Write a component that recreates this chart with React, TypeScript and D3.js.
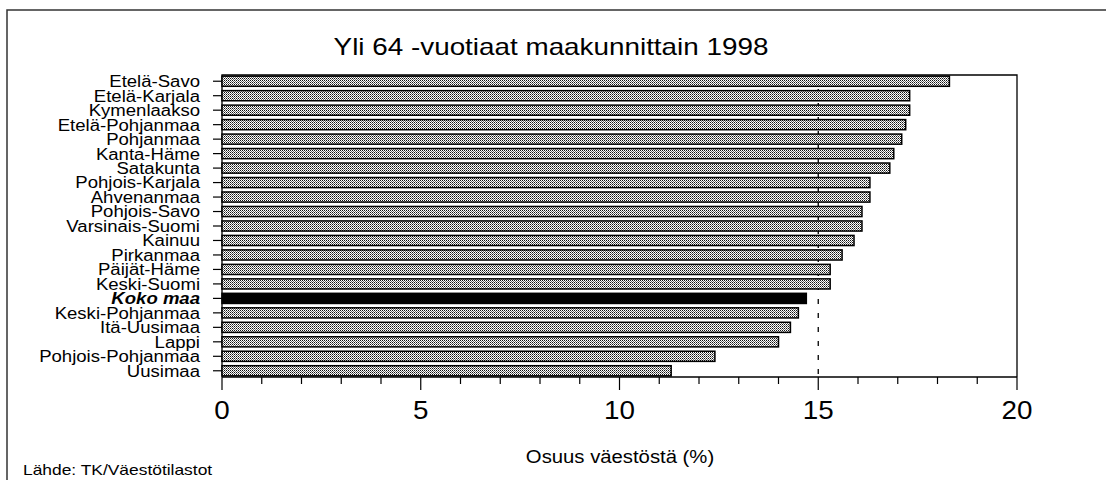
import React from "react";
import * as d3 from "d3";

const categories = [
  "Etelä-Savo",
  "Etelä-Karjala",
  "Kymenlaakso",
  "Etelä-Pohjanmaa",
  "Pohjanmaa",
  "Kanta-Häme",
  "Satakunta",
  "Pohjois-Karjala",
  "Ahvenanmaa",
  "Pohjois-Savo",
  "Varsinais-Suomi",
  "Kainuu",
  "Pirkanmaa",
  "Päijät-Häme",
  "Keski-Suomi",
  "Koko maa",
  "Keski-Pohjanmaa",
  "Itä-Uusimaa",
  "Lappi",
  "Pohjois-Pohjanmaa",
  "Uusimaa",
];
const values = [
  18.3, 17.3, 17.3, 17.2, 17.1, 16.9, 16.8, 16.3, 16.3, 16.1, 16.1, 15.9, 15.6,
  15.3, 15.3, 14.7, 14.5, 14.3, 14.0, 12.4, 11.3,
];
const highlight = "Koko maa";
const majorTicks = [0, 5, 10, 15, 20];
const minorTicks = d3.range(0, 21, 1);
const referenceValue = 15;
const titleText = "Yli 64 -vuotiaat maakunnittain 1998";
const axisTitle = "Osuus väestöstä (%)";
const sourceText = "Lähde: TK/Väestötilastot";

const W = 1106;
const H = 480;
const FONT = "'Liberation Sans', Arial, Helvetica, sans-serif";

export default function App() {
  const left = 222;
  const right = 1017;
  const top = 75;
  const bottom = 377;

  const x = d3.scaleLinear().domain([0, 20]).range([left, right]);
  const y = d3
    .scaleBand<string>()
    .domain(categories)
    .range([top, bottom])
    .paddingInner(0.3)
    .paddingOuter(0.08);

  const data = categories.map((c, i) => ({ c, v: values[i] }));

  return (
    <svg
      width={W}
      height={H}
      style={{ position: "absolute", left: 0, top: 0, background: "#fff" }}
      fontFamily={FONT}
    >
      <defs>
        <pattern id="stipple" width="2" height="2" patternUnits="userSpaceOnUse">
          <rect width="2" height="2" fill="#ffffff" />
          <rect x="0" y="0" width="1" height="1" fill="#111" />
          <rect x="1" y="1" width="1" height="1" fill="#6a6a6a" />
        </pattern>
      </defs>
      <rect width={W} height={H} fill="#fff" />
      {/* outer frame */}
      <path d={`M7,${H} V10 H${W}`} fill="none" stroke="#333" strokeWidth={1.5} />

      {/* title */}
      <text
        transform={`translate(551,55) scale(1.16,1)`}
        textAnchor="middle"
        fontSize={24}
        fill="#000"
      >
        {titleText}
      </text>

      {/* reference dashed line */}
      <line
        x1={x(referenceValue)}
        x2={x(referenceValue)}
        y1={top}
        y2={bottom}
        stroke="#000"
        strokeWidth={1.3}
        strokeDasharray="5,9"
      />

      {/* plot frame */}
      <path
        d={`M${left},${bottom} V${top} H${right} V${bottom}`}
        fill="none"
        stroke="#000"
        strokeWidth={1.3}
      />

      {/* bars */}
      {data.map((d) => (
        <rect
          key={d.c}
          x={x(0)}
          y={y(d.c)!}
          width={x(d.v) - x(0)}
          height={y.bandwidth()}
          fill={d.c === highlight ? "#000" : "url(#stipple)"}
          stroke="#000"
          strokeWidth={1.5}
        />
      ))}

      {/* y ticks & labels */}
      {data.map((d) => {
        const cy = y(d.c)! + y.bandwidth() / 2;
        const hl = d.c === highlight;
        return (
          <g key={"l" + d.c}>
            <line x1={left - 9} x2={left} y1={cy} y2={cy} stroke="#000" strokeWidth={1.2} />
            <text
              transform={`translate(200,${cy}) scale(1.16,1)`}
              textAnchor="end"
              dy="0.37em"
              fontSize={16}
              fontWeight={hl ? "bold" : "normal"}
              fontStyle={hl ? "italic" : "normal"}
              fill="#000"
            >
              {d.c}
            </text>
          </g>
        );
      })}

      {/* x axis */}
      <line x1={left} x2={right} y1={bottom} y2={bottom} stroke="#000" strokeWidth={1.5} />
      {minorTicks.map((t) => (
        <line
          key={"m" + t}
          x1={x(t)}
          x2={x(t)}
          y1={bottom}
          y2={majorTicks.includes(t) ? bottom + 13 : bottom + 7}
          stroke="#000"
          strokeWidth={1.2}
        />
      ))}
      {majorTicks.map((t) => (
        <text
          key={"t" + t}
          transform={`translate(${x(t)},419) scale(1.07,1)`}
          textAnchor="middle"
          fontSize={26}
          fill="#000"
        >
          {t}
        </text>
      ))}

      {/* axis title */}
      <text
        transform={`translate(620,463) scale(1.16,1)`}
        textAnchor="middle"
        fontSize={17.5}
        fill="#000"
      >
        {axisTitle}
      </text>

      {/* source */}
      <text
        transform={`translate(23,475) scale(1.16,1)`}
        textAnchor="start"
        fontSize={15}
        fill="#000"
      >
        {sourceText}
      </text>
    </svg>
  );
}
